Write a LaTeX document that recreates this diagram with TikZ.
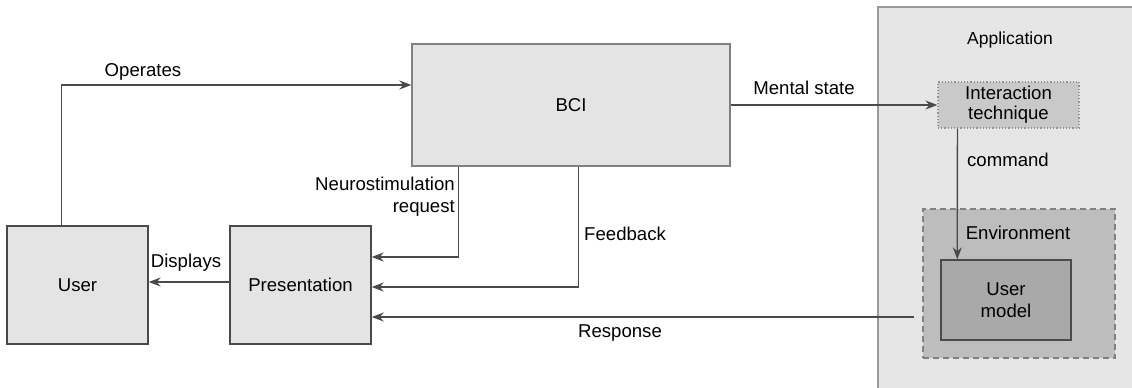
\documentclass[tikz,border=0pt]{standalone}
\usepackage{fontspec}
\setmainfont{Liberation Sans}
\usetikzlibrary{arrows.meta,calc}
\definecolor{boxfill}{HTML}{E4E4E4}
\definecolor{linec}{HTML}{4A4A4A}
\definecolor{appfill}{HTML}{E6E6E6}
\definecolor{appline}{HTML}{9A9A9A}
\definecolor{itfill}{HTML}{C9C9C9}
\definecolor{envfill}{HTML}{BDBDBD}
\definecolor{umfill}{HTML}{A9A9A9}
\tikzset{
  box/.style={draw=linec, line width=1.4pt, fill=boxfill, inner sep=0pt, align=center},
  lbl/.style={inner sep=0pt, align=center},
  arr/.style={draw=linec, line width=1.3pt, -{Stealth[length=12pt,width=9pt,inset=4pt]}}
}
\begin{document}
\begin{tikzpicture}[x=1pt,y=-1pt,font=\fontsize{18.6}{22}\selectfont]
\useasboundingbox (0,0) rectangle (1132,388);
% Application container
\fill[appfill] (878,7) rectangle (1132,388);
\draw[appline, line width=1.2pt] (878,388) -- (878,7) -- (1132,7);
\node[lbl, font=\fontsize{17.5}{20}\selectfont] (app) at (1010,40) {Application};
% nodes
\node[box, minimum width=141pt, minimum height=118pt] (user) at (77.5,285) {User};
\node[box, minimum width=141pt, minimum height=118pt] (pres) at (300.5,285) {Presentation};
\node[box, draw=linec!70, minimum width=318pt, minimum height=122pt] (bci) at (571,105) {BCI};
\node[draw=linec!60, dotted, line width=1.2pt, fill=itfill, minimum width=141pt, minimum height=46pt, inner sep=0pt, align=center] (inter) at (1008.5,105) {Interaction\\[-2pt]technique};
\node[draw=linec!70, dashed, dash pattern=on 6pt off 4pt, line width=1.5pt, fill=envfill, minimum width=192pt, minimum height=149pt, inner sep=0pt] (env) at (1019,283.5) {};
\node[lbl] (envlbl) at (1018,233) {Environment};
\node[draw=linec, line width=1.4pt, fill=umfill, minimum width=130pt, minimum height=80pt, inner sep=0pt, align=center] (um) at (1006,300) {User\\model};
% connectors
\draw[arr] ([xshift=55pt]user.north west) |- ([yshift=20pt]bci.west);
\node[lbl] (oplbl) at (143,72) {Operates};
\draw[arr] (bci.east) -- (inter.west);
\node[lbl] (mslbl) at (804,88) {Mental state};
\draw[arr] ([xshift=47pt]bci.south west) |- ([yshift=28pt]pres.east);
\node[lbl, anchor=east, align=right] (nslbl) at (455,197) {Neurostimulation\\request};
\draw[arr] ([xshift=167pt]bci.south west) |- ([yshift=-2pt]pres.east);
\node[lbl, anchor=west] (fblbl) at (584,234) {Feedback};
\coordinate (respstart) at ([xshift=-8pt,yshift=-33.5pt]env.west);
\draw[arr] (respstart) -- (pres.east |- respstart);
\node[lbl] (rplbl) at (620,333) {Response};
\draw[arr] ([yshift=3pt]pres.west) -- ([yshift=3pt]user.east);
\node[lbl] (dplbl) at (186,263) {Displays};
\draw[arr] ([xshift=20pt]inter.south west) -- ([xshift=17pt]um.north west);
\node[lbl] (cmdlbl) at (1008,160) {command};
\end{tikzpicture}
\end{document}
